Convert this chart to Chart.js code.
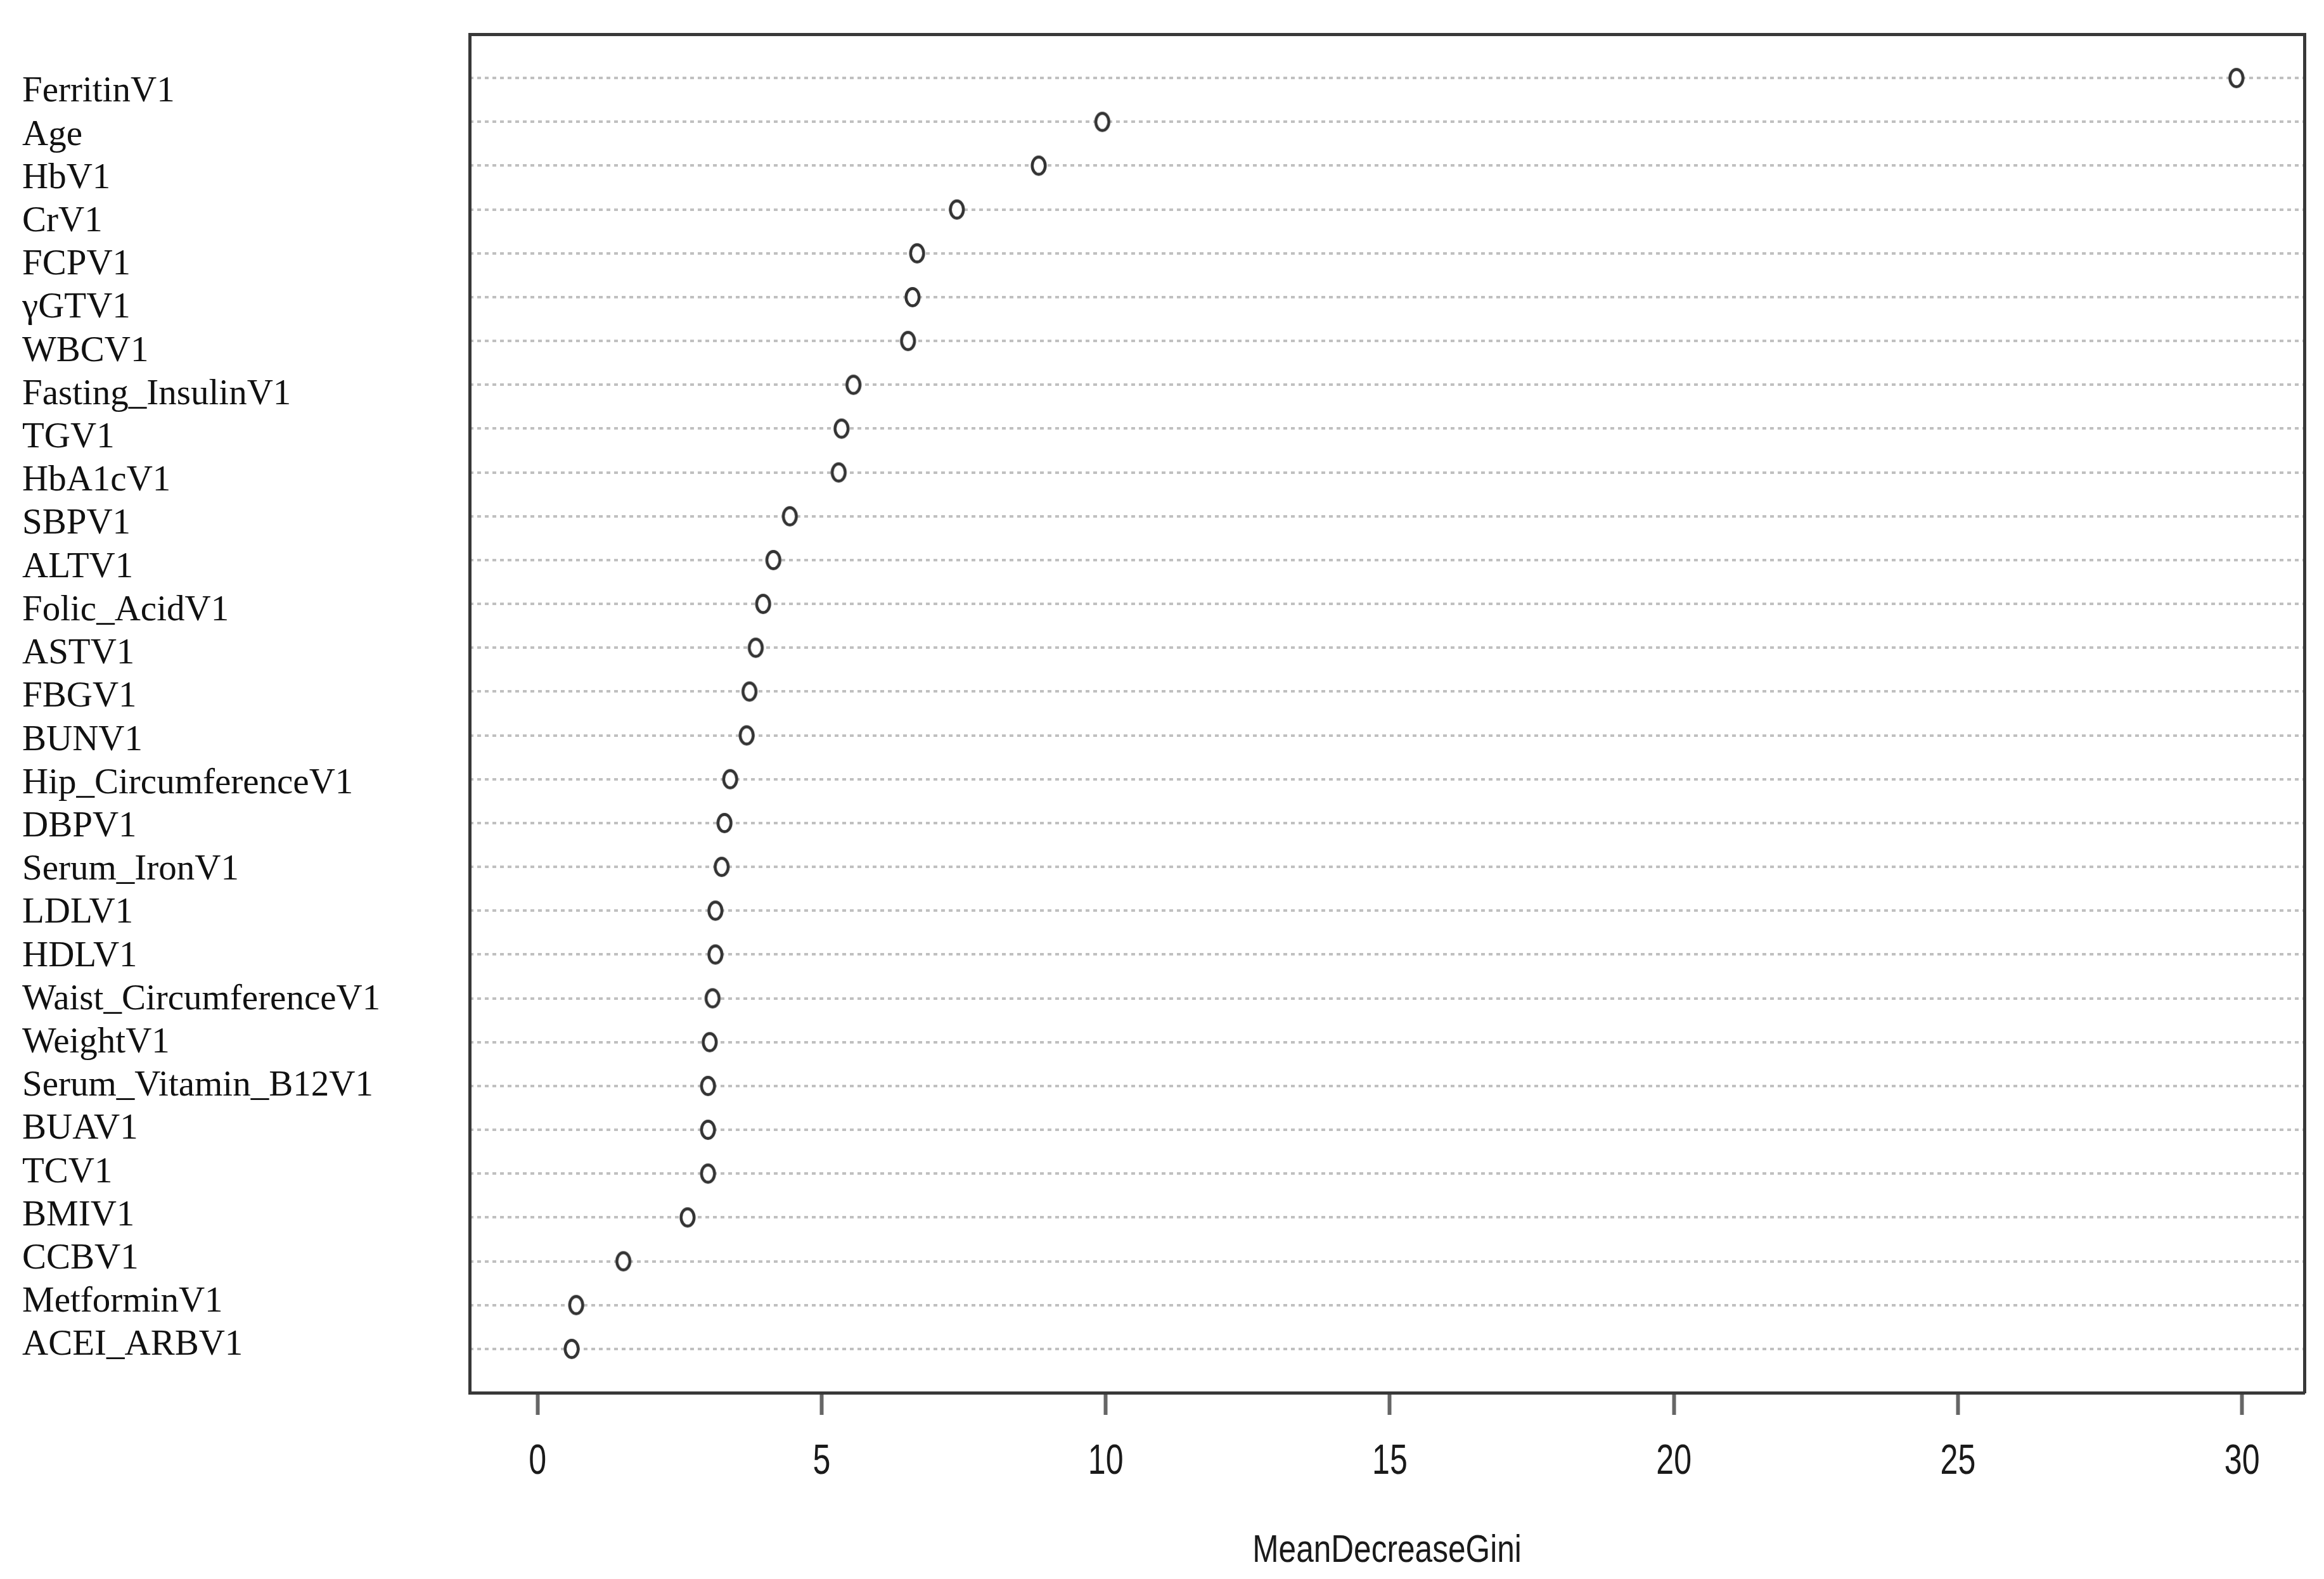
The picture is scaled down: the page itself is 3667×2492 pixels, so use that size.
<!DOCTYPE html>
<html>
<head>
<meta charset="utf-8">
<script src="https://cdn.jsdelivr.net/npm/chart.js@4.4.1/dist/chart.umd.min.js"></script>
<style>
  html, body { margin: 0; padding: 0; background: #ffffff; }
  #wrap { width: 3667px; height: 2492px; }
</style>
</head>
<body>
<div id="wrap"><canvas id="c" width="3667" height="2492"></canvas></div>
<script>
// ---- data ----
const features = [
  "FerritinV1", "Age", "HbV1", "CrV1", "FCPV1", "\u03b3GTV1", "WBCV1",
  "Fasting_InsulinV1", "TGV1", "HbA1cV1", "SBPV1", "ALTV1", "Folic_AcidV1",
  "ASTV1", "FBGV1", "BUNV1", "Hip_CircumferenceV1", "DBPV1", "Serum_IronV1",
  "LDLV1", "HDLV1", "Waist_CircumferenceV1", "WeightV1", "Serum_Vitamin_B12V1",
  "BUAV1", "TCV1", "BMIV1", "CCBV1", "MetforminV1", "ACEI_ARBV1"
];
const meanDecreaseGini = [
  29.9, 9.94, 8.82, 7.38, 6.68, 6.60, 6.52,
  5.56, 5.35, 5.30, 4.44, 4.15, 3.97,
  3.84, 3.73, 3.68, 3.39, 3.29, 3.24,
  3.13, 3.13, 3.08, 3.03, 3.00,
  3.00, 3.00, 2.64, 1.51, 0.68, 0.60
];
const xTicks = [0, 5, 10, 15, 20, 25, 30];
const xTitle = "MeanDecreaseGini";

// ---- derived ----
const n = features.length;
const rowPositions = features.map((_, i) => n - i);   // top row = n
const points = meanDecreaseGini.map((v, i) => ({ x: v, y: n - i }));
const xMax = Math.max(...meanDecreaseGini);
const xLo = 0 - 0.04 * xMax;
const xHi = xMax + 0.04 * xMax;

// open (elliptical) point marker
function makeMarker() {
  const cv = document.createElement('canvas');
  cv.width = 30; cv.height = 36;
  const g = cv.getContext('2d');
  g.beginPath();
  g.ellipse(15, 18, 10.3, 13.6, 0, 0, Math.PI * 2);
  g.fillStyle = '#ffffff';
  g.fill();
  g.lineWidth = 4.6;
  g.strokeStyle = '#333333';
  g.stroke();
  return cv;
}
const marker = makeMarker();

// horizontally condensed text (narrow sans look) for the x axis
function condense(scale, labelRatio, titleRatio) {
  if (scale._condensed) return;
  scale._condensed = true;
  const wrap = (fn, ratio) => function (...args) {
    const ctx = this.ctx;
    const orig = ctx.fillText;
    ctx.fillText = function (t, x, y) {
      const w = this.measureText(t).width;
      return orig.call(this, t, x, y, w * ratio);
    };
    try { return fn.apply(this, args); } finally { ctx.fillText = orig; }
  };
  scale.drawLabels = wrap(scale.drawLabels, labelRatio);
  scale.drawTitle = wrap(scale.drawTitle, titleRatio);
}

const BORDER = '#383838';
const SANS = "'Liberation Sans', Arial, sans-serif";
const setTicks = (vals) => (scale) => { scale.ticks = vals.map(v => ({ value: v })); };

new Chart(document.getElementById('c'), {
  type: 'scatter',
  data: {
    datasets: [{
      data: points,
      pointStyle: marker,
      pointRadius: 12,
      pointHoverRadius: 12,
      showLine: false,
      xAxisID: 'x',
      yAxisID: 'y'
    }]
  },
  options: {
    responsive: false,
    animation: false,
    devicePixelRatio: 1,
    layout: { padding: { left: 35, top: 54, right: 31, bottom: 7 } },
    plugins: { legend: { display: false }, tooltip: { enabled: false } },
    scales: {
      x: {
        type: 'linear', position: 'bottom',
        min: xLo, max: xHi,
        afterBuildTicks: setTicks(xTicks),
        afterFit: (s) => { s.height = 287; condense(s, 0.76, 0.8); },
        grid: {
          display: true, drawOnChartArea: false, drawTicks: true,
          tickLength: 35, tickWidth: 6, tickColor: '#666666', lineWidth: 1
        },
        border: { display: true, color: BORDER, width: 5 },
        ticks: {
          padding: 35,
          color: '#1a1a1a',
          font: { family: SANS, size: 66 },
          callback: (v) => String(v)
        },
        title: {
          display: true, text: xTitle, color: '#1a1a1a',
          padding: { top: 0, bottom: 0 },
          font: { family: SANS, size: 62 }
        }
      },
      x2: {
        type: 'linear', position: 'top',
        min: xLo, max: xHi,
        afterFit: (s) => { s.height = 0; },
        grid: { display: false, drawTicks: false },
        ticks: { display: false },
        border: { display: true, color: BORDER, width: 5 }
      },
      y: {
        type: 'linear', position: 'left', weight: 0,
        min: 0, max: n + 1,
        afterBuildTicks: setTicks(rowPositions),
        afterFit: (s) => { s.width = 0; },
        ticks: { display: false },
        grid: {
          display: true, drawOnChartArea: true, drawTicks: false,
          color: '#c0c0c0', lineWidth: 4, borderDash: [6, 6]
        },
        border: { display: false, dash: [6, 6] }
      },
      yl: {
        type: 'linear', position: 'left', weight: 1,
        min: -0.092, max: 31.34,
        afterBuildTicks: setTicks(rowPositions),
        afterFit: (s) => { s.width = 706; },
        grid: { display: false, drawTicks: false },
        border: { display: true, color: BORDER, width: 5 },
        ticks: {
          crossAlign: 'far',
          padding: 0,
          color: '#111',
          font: { family: "'Liberation Serif', 'Times New Roman', serif", size: 57 },
          callback: (v) => features[n - v]
        }
      },
      y2: {
        type: 'linear', position: 'right',
        min: 0, max: n + 1,
        afterFit: (s) => { s.width = 0; },
        grid: { display: false, drawTicks: false },
        ticks: { display: false },
        border: { display: true, color: BORDER, width: 5 }
      }
    }
  }
});
</script>
</body>
</html>
